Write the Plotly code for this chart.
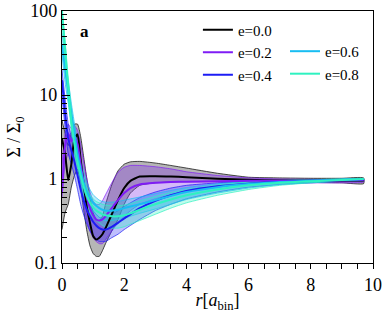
import plotly.graph_objects as go

# radius grid [a_bin]
R = [0, 0.1, 0.2, 0.3, 0.4, 0.5, 0.6, 0.7, 0.8, 0.9, 1.0, 1.1, 1.2, 1.3, 1.4,
     1.6, 1.8, 2.0, 2.2, 2.5, 3.0, 3.5, 4.0, 5.0, 6.0, 7.0, 8.0, 9.0, 9.7]

# e = 0.0
med_00 = [3.0, 2.0, 0.97, 1.5, 3.0, 3.4, 1.7, 0.85, 0.46, 0.3, 0.21, 0.19, 0.2, 0.22, 0.26,
          0.38, 0.56, 0.78, 0.95, 1.07, 1.08, 1.07, 1.05, 1.01, 0.98, 0.96, 0.95, 0.95, 0.96]
hi_00 = [5.0, 3.5, 2.5, 3.5, 4.5, 4.5, 3.2, 1.8, 1.0, 0.6, 0.4, 0.33, 0.32, 0.36, 0.5,
         0.85, 1.25, 1.5, 1.6, 1.62, 1.55, 1.45, 1.35, 1.17, 1.05, 1.03, 1.02, 1.02, 1.03]
lo_00 = [0.25, 0.4, 0.5, 0.8, 1.1, 1.3, 0.8, 0.42, 0.24, 0.16, 0.13, 0.12, 0.12, 0.14, 0.17,
         0.24, 0.33, 0.5, 0.68, 0.84, 0.9, 0.92, 0.93, 0.93, 0.92, 0.92, 0.91, 0.9, 0.88]

# e = 0.2
med_02 = [0.7, 2.5, 3.5, 2.8, 3.2, 2.6, 1.5, 0.9, 0.6, 0.45, 0.37, 0.33, 0.32, 0.33, 0.36,
          0.45, 0.56, 0.68, 0.78, 0.86, 0.9, 0.92, 0.93, 0.94, 0.95, 0.95, 0.95, 0.96, 0.97]
hi_02 = [1.5, 3.5, 4.5, 4.0, 4.3, 3.8, 2.6, 1.6, 1.0, 0.7, 0.55, 0.5, 0.5, 0.55, 0.65,
         0.9, 1.2, 1.38, 1.45, 1.45, 1.4, 1.32, 1.22, 1.1, 1.03, 1.0, 0.99, 0.98, 0.99]
lo_02 = [0.6, 1.5, 2.0, 1.7, 2.0, 1.6, 0.9, 0.5, 0.32, 0.24, 0.2, 0.18, 0.17, 0.17, 0.19,
         0.24, 0.3, 0.36, 0.42, 0.5, 0.58, 0.65, 0.72, 0.82, 0.88, 0.9, 0.9, 0.9, 0.92]

# e = 0.4
med_04 = [15, 6, 3, 2.2, 1.6, 1.1, 0.75, 0.55, 0.43, 0.36, 0.31, 0.28, 0.26, 0.25, 0.25,
          0.27, 0.3, 0.34, 0.38, 0.45, 0.55, 0.64, 0.72, 0.82, 0.88, 0.92, 0.95, 0.97, 0.99]
hi_04 = [20, 9, 4.5, 3.2, 2.3, 1.6, 1.1, 0.8, 0.6, 0.48, 0.42, 0.38, 0.35, 0.34, 0.35,
         0.38, 0.42, 0.47, 0.52, 0.6, 0.7, 0.78, 0.84, 0.9, 0.94, 0.96, 0.98, 0.99, 1.0]
lo_04 = [10, 4, 2, 1.5, 1.1, 0.75, 0.5, 0.37, 0.29, 0.24, 0.21, 0.19, 0.18, 0.18, 0.18,
         0.2, 0.22, 0.25, 0.28, 0.33, 0.42, 0.5, 0.58, 0.7, 0.8, 0.86, 0.9, 0.94, 0.96]

# e = 0.6
med_06 = [40, 20, 11, 6, 3.5, 2.0, 1.3, 0.9, 0.7, 0.6, 0.52, 0.48, 0.45, 0.43, 0.42,
          0.42, 0.43, 0.45, 0.47, 0.5, 0.56, 0.63, 0.7, 0.8, 0.87, 0.92, 0.95, 0.98, 1.0]
hi_06 = [55, 28, 15, 8, 4.6, 2.7, 1.7, 1.2, 0.9, 0.75, 0.65, 0.6, 0.56, 0.54, 0.53,
         0.53, 0.54, 0.56, 0.58, 0.61, 0.67, 0.73, 0.79, 0.88, 0.93, 0.96, 0.98, 1.0, 1.01]
lo_06 = [30, 14, 8, 4.5, 2.6, 1.5, 1.0, 0.7, 0.55, 0.47, 0.41, 0.38, 0.35, 0.33, 0.32,
         0.32, 0.33, 0.34, 0.36, 0.39, 0.44, 0.5, 0.57, 0.68, 0.78, 0.86, 0.91, 0.95, 0.98]

# e = 0.8
med_08 = [100, 35, 12, 5, 2.6, 1.6, 1.1, 0.8, 0.62, 0.52, 0.46, 0.42, 0.4, 0.38, 0.37,
          0.36, 0.36, 0.37, 0.39, 0.43, 0.5, 0.57, 0.64, 0.75, 0.84, 0.9, 0.94, 0.97, 1.0]
hi_08 = [100, 45, 16, 7, 3.5, 2.1, 1.4, 1.0, 0.78, 0.65, 0.58, 0.54, 0.52, 0.5, 0.49,
         0.48, 0.48, 0.49, 0.51, 0.55, 0.62, 0.69, 0.75, 0.85, 0.92, 0.96, 0.98, 1.0, 1.01]
lo_08 = [80, 25, 9, 3.8, 2.0, 1.2, 0.85, 0.62, 0.48, 0.4, 0.35, 0.32, 0.3, 0.28, 0.27,
         0.26, 0.26, 0.27, 0.29, 0.32, 0.38, 0.45, 0.52, 0.64, 0.75, 0.84, 0.9, 0.94, 0.97]

labels = ["e=0.0", "e=0.2", "e=0.4", "e=0.6", "e=0.8"]
meds = [med_00, med_02, med_04, med_06, med_08]
his = [hi_00, hi_02, hi_04, hi_06, hi_08]
los = [lo_00, lo_02, lo_04, lo_06, lo_08]
line_colors = ["#000000", "#7f1cf5", "#1c1cf5", "#18bdf2", "#2ef2c0"]
fill_colors = ["rgba(110,110,110,0.5)", "rgba(125,40,230,0.32)", "rgba(40,40,250,0.30)",
               "rgba(24,189,242,0.30)", "rgba(46,242,192,0.30)"]
legend_ids = ["legend", "legend", "legend", "legend2", "legend2"]

fig = go.Figure()
for lab, med, hi, lo, lc, fc in zip(labels, meds, his, los, line_colors, fill_colors):
    fig.add_trace(go.Scatter(
        x=R + R[::-1], y=hi + lo[::-1], mode="lines", fill="toself",
        fillcolor=fc, line=dict(color=lc, width=0.7, shape="spline", smoothing=0.5),
        showlegend=False, hoverinfo="skip"))
for lab, med, lc, lg in zip(labels, meds, line_colors, legend_ids):
    fig.add_trace(go.Scatter(
        x=R, y=med, mode="lines", name=lab, legend=lg,
        line=dict(color=lc, width=2, shape="spline", smoothing=0.5)))

font_family = "Liberation Serif"
fig.update_layout(
    width=391, height=313,
    margin=dict(l=62, r=18, t=11, b=50),
    paper_bgcolor="white", plot_bgcolor="white",
    font=dict(family=font_family, size=16, color="black"),
    xaxis=dict(range=[0, 10], tickvals=[0, 2, 4, 6, 8, 10], ticks="outside", ticklen=5,
               tickcolor="black", showline=True, linecolor="black", linewidth=1.2,
               mirror=True, showgrid=False, zeroline=False, automargin=False,
               tickfont=dict(size=18),
               minor=dict(dtick=0.5, ticks="outside", ticklen=5, tickcolor="black"),
               title=dict(text="<i>r</i>[<i>a</i><sub>bin</sub>]", standoff=0,
                          font=dict(size=18))),
    yaxis=dict(type="log", range=[-1, 2], tickvals=[0.1, 1, 10, 100],
               ticktext=["0.1", "1", "10", "100"], ticks="inside", ticklen=8,
               tickcolor="black", showline=True, linecolor="black", linewidth=1.2,
               mirror=True, showgrid=False, zeroline=False, automargin=False,
               tickfont=dict(size=18),
               minor=dict(ticks="inside", ticklen=5, tickcolor="black",
                          tickvals=[0.2, 0.3, 0.4, 0.5, 0.6, 0.7, 0.8, 0.9,
                                    2, 3, 4, 5, 6, 7, 8, 9,
                                    20, 30, 40, 50, 60, 70, 80, 90]),
               title=dict(text="Σ / Σ<sub>0</sub>", standoff=4, font=dict(size=18))),
    legend=dict(x=0.437, y=0.99, xanchor="left", yanchor="top", bgcolor="rgba(0,0,0,0)",
                font=dict(size=15), tracegroupgap=0, itemwidth=30),
    legend2=dict(x=0.717, y=0.905, xanchor="left", yanchor="top", bgcolor="rgba(0,0,0,0)",
                 font=dict(size=15), tracegroupgap=0, itemwidth=30),
    annotations=[dict(text="<b>a</b>", x=0.05, y=0.92, xref="paper", yref="paper",
                      showarrow=False, font=dict(size=17), xanchor="left", yanchor="middle")],
)
fig.write_html("out.html", config={"displayModeBar": False},
               post_script="document.body.style.margin='0px';")
